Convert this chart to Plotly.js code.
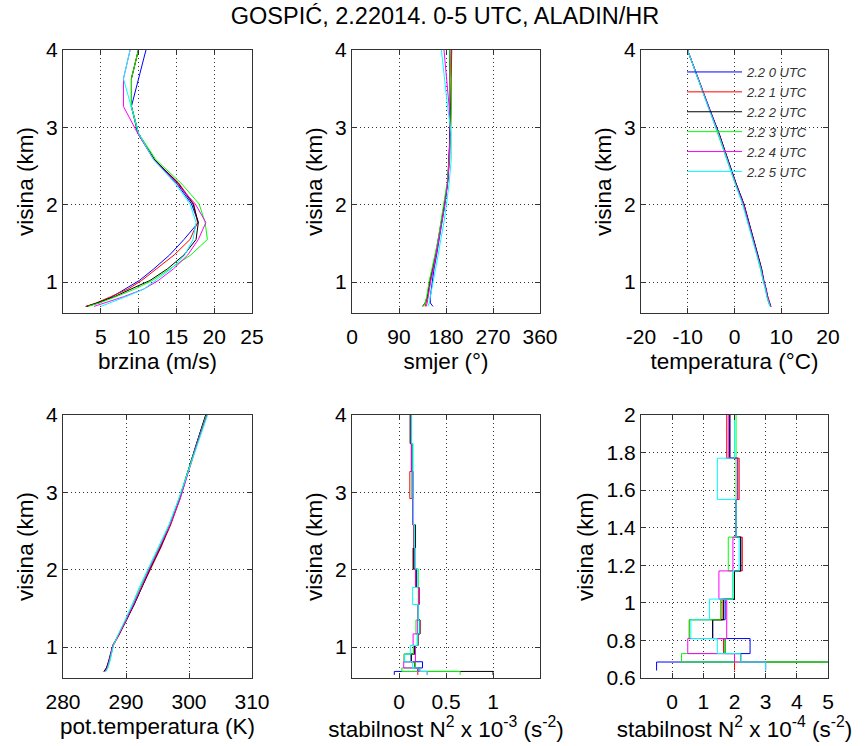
<!DOCTYPE html>
<html>
<head>
<meta charset="utf-8">
<script src="https://cdn.plot.ly/plotly-3.0.1.min.js"></script>
<style>html,body{margin:0;padding:0;background:#fff}#chart{width:865px;height:746px}</style>
</head>
<body>
<div id="chart"></div>
<script>
// ---- Data ----
const seriesNames = ['2.2 0 UTC','2.2 1 UTC','2.2 2 UTC','2.2 3 UTC','2.2 4 UTC','2.2 5 UTC'];
const seriesColors = ['#0000ff','#ff0000','#000000','#00ff00','#ff00ff','#00ffff'];

// model level heights (km)
const heights = [0.685, 0.73, 0.81, 0.91, 1.02, 1.17, 1.35, 1.55, 1.77, 2.01, 2.28, 2.58, 2.92, 3.27, 3.63, 4.01];

// wind speed (m/s)
const speed0 = [3.0, 4.8, 6.5, 8.2, 10.1, 12.0, 14.1, 16.0, 17.9, 17.0, 15.0, 12.1, 10.0, 9.05, 9.95, 11.0];
const speed1 = [3.0, 4.4, 6.3, 8.6, 10.4, 12.4, 14.7, 16.8, 17.8, 17.3, 15.3, 12.1, 10.0, 9.05, 9.05, 10.0];
const speed2 = [3.2, 4.6, 6.8, 9.0, 11.5, 13.8, 16.0, 17.6, 17.9, 17.2, 15.2, 12.1, 9.9, 9.05, 9.05, 10.0];
const speed3 = [3.3, 4.8, 7.0, 9.5, 11.8, 14.2, 16.9, 19.1, 18.8, 18.0, 15.6, 12.3, 10.0, 9.05, 9.05, 10.0];
const speed4 = [4.1, 5.5, 8.0, 10.7, 12.6, 14.6, 16.5, 17.9, 18.9, 17.5, 15.0, 12.0, 9.9, 8.0, 8.0, 8.9];
const speed5 = [5.0, 6.2, 8.3, 10.7, 12.2, 14.3, 16.1, 17.2, 17.6, 16.8, 14.8, 12.0, 10.0, 9.05, 8.0, 8.9];

// wind direction (deg)
const dir0 = [155, 150, 150, 152, 153, 157, 162, 167, 172, 178, 183, 186, 187, 188, 188, 190];
const dir1 = [140, 142, 145, 147, 150, 155, 161, 166, 171, 177, 183, 187, 189, 190, 190, 191];
const dir2 = [135, 140, 144, 146, 149, 154, 160, 165, 171, 177, 183, 186, 188, 188, 187, 187];
const dir3 = [137, 140, 143, 145, 148, 153, 159, 165, 170, 176, 182, 186, 189, 190, 188, 187];
const dir4 = [142, 144, 146, 148, 151, 156, 161, 167, 172, 178, 183, 186, 188, 186, 181, 176];
const dir5 = [145, 148, 150, 153, 156, 160, 165, 170, 176, 181, 186, 190, 190, 183, 177, 171];

// temperature (deg C)
const temp0 = [7.8, 7.5, 7.1, 6.8, 6.3, 5.8, 5.0, 4.1, 3.1, 2.0, 0.3, -1.4, -3.3, -5.5, -7.7, -10.1];
const temp1 = [7.7, 7.5, 7.1, 6.7, 6.2, 5.7, 4.9, 4.0, 3.0, 1.9, 0.2, -1.5, -3.4, -5.6, -7.8, -10.1];
const temp2 = [7.8, 7.4, 7.0, 6.7, 6.2, 5.8, 5.0, 4.1, 3.1, 2.0, 0.3, -1.4, -3.3, -5.6, -7.8, -10.1];
const temp3 = [7.6, 7.3, 7.0, 6.6, 6.1, 5.6, 4.8, 3.9, 2.9, 1.8, 0.1, -1.6, -3.5, -5.6, -7.8, -10.1];
const temp4 = [7.7, 7.4, 7.0, 6.7, 6.2, 5.7, 4.9, 4.0, 3.0, 1.9, 0.2, -1.5, -3.4, -5.6, -7.8, -10.1];
const temp5 = [7.6, 7.3, 6.9, 6.6, 6.1, 5.6, 4.8, 3.8, 2.8, 1.7, 0.1, -1.6, -3.5, -5.7, -7.9, -10.1];

// potential temperature (K)
const theta0 = [286.5, 286.9, 287.3, 287.6, 287.9, 288.9, 290.1, 291.2, 292.4, 293.8, 295.4, 297.0, 298.5, 299.8, 301.2, 302.7];
const theta1 = [286.6, 287.0, 287.3, 287.6, 288.0, 289.0, 290.1, 291.3, 292.5, 293.9, 295.5, 297.1, 298.6, 299.9, 301.3, 302.8];
const theta2 = [286.5, 286.9, 287.2, 287.5, 287.9, 288.9, 290.1, 291.3, 292.5, 293.8, 295.4, 297.0, 298.5, 299.8, 301.2, 302.7];
const theta3 = [286.8, 287.1, 287.4, 287.7, 287.9, 288.8, 290.0, 291.0, 292.2, 293.6, 295.2, 296.9, 298.4, 299.8, 301.2, 302.8];
const theta4 = [286.7, 287.0, 287.3, 287.6, 287.9, 288.9, 290.0, 291.2, 292.4, 293.7, 295.3, 297.0, 298.6, 299.9, 301.3, 302.9];
const theta5 = [286.8, 287.1, 287.4, 287.7, 288.0, 288.8, 289.9, 291.0, 292.1, 293.5, 295.1, 296.8, 298.4, 299.9, 301.4, 303.0];

// layer boundaries (km) for the stability (N^2) stairs
const layerBounds = [0.64, 0.685, 0.73, 0.81, 0.91, 1.02, 1.17, 1.35, 1.55, 1.77, 2.01, 2.28, 2.58, 2.92, 3.27, 3.63, 4.01, 4.4];
// N^2 per layer, in units of 1e-4 s^-2
const n2_0 = [-0.5, 2.0, 2.5, 1.3, 1.7, 2.0, 2.2, 2.05, 2.1, 1.85, 1.7, 1.6, 1.5, 1.4, 1.4, 1.3, 1.3];
const n2_1 = [2.0, 2.0, 1.65, 0.55, 1.6, 2.0, 2.25, 2.05, 2.15, 1.75, 1.55, 1.55, 1.5, 1.15, 1.35, 1.2, 1.2];
const n2_2 = [10.0, 2.2, 1.7, 1.3, 1.65, 2.0, 2.2, 2.05, 2.1, 1.85, 1.5, 1.75, 1.5, 1.5, 1.35, 1.2, 1.2];
const n2_3 = [6.5, 0.3, 1.7, 0.55, 1.55, 1.95, 1.8, 2.05, 2.05, 2.05, 1.7, 1.6, 1.45, 1.4, 1.4, 1.3, 1.3];
const n2_4 = [3.0, 2.0, 0.5, 1.75, 1.75, 1.5, 1.95, 2.05, 2.1, 1.8, 1.7, 1.6, 1.45, 1.45, 1.3, 1.3, 1.3];
const n2_5 = [3.0, 2.2, 1.45, 0.6, 1.2, 1.95, 2.15, 2.05, 1.45, 2.0, 1.75, 1.65, 1.55, 1.5, 1.5, 1.35, 1.35];

// tick labels
const hTicks = [1, 2, 3, 4];
const hTicksZoom = [0.6, 0.8, 1, 1.2, 1.4, 1.6, 1.8, 2];
const speedTicks = [5, 10, 15, 20, 25];
const dirTicks = [0, 90, 180, 270, 360];
const tempTicks = [-20, -10, 0, 10, 20];
const thetaTicks = [280, 290, 300, 310];
const n2Ticks3 = [0, 0.5, 1];
const n2Ticks4 = [0, 1, 2, 3, 4, 5];

// ---- Build ----
const speeds = [speed0, speed1, speed2, speed3, speed4, speed5];
const dirs = [dir0, dir1, dir2, dir3, dir4, dir5];
const temps = [temp0, temp1, temp2, temp3, temp4, temp5];
const thetas = [theta0, theta1, theta2, theta3, theta4, theta5];
const n2s = [n2_0, n2_1, n2_2, n2_3, n2_4, n2_5];

const traces = [];
function addProfile(arrs, xa, ya, legend) {
  arrs.forEach((a, i) => traces.push({
    type: 'scatter', mode: 'lines', x: a, y: heights, xaxis: xa, yaxis: ya,
    name: seriesNames[i], showlegend: legend, legendgroup: 's' + i,
    line: {color: seriesColors[i], width: 1}, hoverinfo: 'skip'
  }));
}
addProfile(speeds, 'x', 'y', false);
addProfile(dirs, 'x2', 'y2', false);
addProfile(temps, 'x3', 'y3', true);
addProfile(thetas, 'x4', 'y4', false);
n2s.forEach((a, i) => {
  const ext = a.concat([a[a.length - 1]]);
  traces.push({type: 'scatter', mode: 'lines', x: ext.map(v => v / 10), y: layerBounds, xaxis: 'x5', yaxis: 'y5',
    showlegend: false, line: {color: seriesColors[i], width: 1, shape: 'vh'}, hoverinfo: 'skip'});
  traces.push({type: 'scatter', mode: 'lines', x: ext, y: layerBounds, xaxis: 'x6', yaxis: 'y6',
    showlegend: false, line: {color: seriesColors[i], width: 1, shape: 'vh'}, hoverinfo: 'skip'});
});

const W = 865, H = 746;
const cols = [[63, 252], [352, 540], [641, 828]];
const rows = [[50, 313], [415, 678]];
const FONT = 'Liberation Sans, Arial, sans-serif';
function xd(c) { return [cols[c][0] / W, cols[c][1] / W]; }
function yd(r) { return [1 - rows[r][1] / H, 1 - rows[r][0] / H]; }

function axBase() {
  return {
    showline: true, linecolor: '#333', linewidth: 1, mirror: 'allticks',
    ticks: 'inside', ticklen: 5, tickcolor: '#333', tickwidth: 1,
    showgrid: true, gridcolor: '#333', griddash: '1px,3px', gridwidth: 1,
    zeroline: false, tickfont: {family: FONT, size: 21, color: '#000'},
    fixedrange: true
  };
}
function xax(c, r, range, tickvals, ticktext, title, anchor) {
  return Object.assign(axBase(), {domain: xd(c), anchor: anchor, range: range, tickmode: 'array', tickvals: tickvals,
    ticktext: ticktext, ticklabelstandoff: 5,
    title: {text: title, font: {family: FONT, size: 22.5, color: '#000'}, standoff: 6}});
}
function yax(c, r, range, tickvals, ticktext, anchor) {
  return Object.assign(axBase(), {domain: yd(r), anchor: anchor, range: range, tickmode: 'array', tickvals: tickvals,
    ticktext: ticktext, title: {text: 'visina (km)', font: {family: FONT, size: 22.5, color: '#000'}, standoff: 6}});
}
const hLab = hTicks.map(String);

const layout = {
  width: W, height: H, margin: {l: 0, r: 0, t: 0, b: 0}, paper_bgcolor: '#fff', plot_bgcolor: '#fff',
  font: {family: FONT, color: '#000'},
  title: {text: 'GOSPIĆ, 2.22014. 0-5 UTC, ALADIN/HR', font: {family: FONT, size: 23.5, color: '#000'},
    x: 445 / W, xanchor: 'center', y: 1 - 16 / H, yanchor: 'middle'},
  xaxis: xax(0, 0, [0, 25], speedTicks, speedTicks.map(String), 'brzina (m/s)', 'y'),
  yaxis: yax(0, 0, [0.6, 4], hTicks, hLab, 'x'),
  xaxis2: xax(1, 0, [0, 360], dirTicks, dirTicks.map(String), 'smjer (°)', 'y2'),
  yaxis2: yax(1, 0, [0.6, 4], hTicks, hLab, 'x2'),
  xaxis3: xax(2, 0, [-20, 20], tempTicks, tempTicks.map(String), 'temperatura (°C)', 'y3'),
  yaxis3: yax(2, 0, [0.6, 4], hTicks, hLab, 'x3'),
  xaxis4: xax(0, 1, [280, 310], thetaTicks, thetaTicks.map(String), 'pot.temperatura (K)', 'y4'),
  yaxis4: yax(0, 1, [0.6, 4], hTicks, hLab, 'x4'),
  xaxis5: xax(1, 1, [-0.5, 1.5], n2Ticks3, n2Ticks3.map(String), 'stabilnost N<sup>2</sup> x 10<sup>-3</sup> (s<sup>-2</sup>)', 'y5'),
  yaxis5: yax(1, 1, [0.6, 4], hTicks, hLab, 'x5'),
  xaxis6: xax(2, 1, [-1, 5], n2Ticks4, n2Ticks4.map(String), 'stabilnost N<sup>2</sup> x 10<sup>-4</sup> (s<sup>-2</sup>)', 'y6'),
  yaxis6: yax(2, 1, [0.6, 2], hTicksZoom, hTicksZoom.map(String), 'x6'),
  showlegend: true,
  legend: {x: 682 / W, y: 1 - 57 / H, xanchor: 'left', yanchor: 'top', bgcolor: 'rgba(0,0,0,0)', borderwidth: 0,
    font: {family: FONT, size: 13, color: '#333', style: 'italic'}, tracegroupgap: 0, itemwidth: 55, traceorder: 'normal'}
};

Plotly.newPlot('chart', traces, layout, {staticPlot: true, displayModeBar: false});
</script>
</body>
</html>
